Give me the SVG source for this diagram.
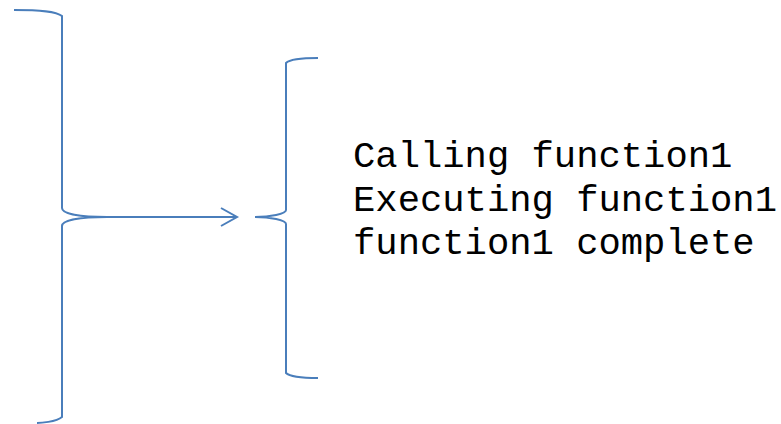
<svg xmlns="http://www.w3.org/2000/svg" width="781" height="424" viewBox="0 0 781 424">
<style>
.b{fill:none;stroke:#4a7ebb;stroke-width:2}
.t{font-family:"Liberation Mono","Courier New",monospace;font-size:37.2px;fill:#000}
</style>
<defs>
<marker id="ah" markerWidth="20" markerHeight="24" refX="17" refY="10" orient="auto" markerUnits="userSpaceOnUse">
<path d="M1,1 L17,10 L1,19" fill="none" stroke="#4a7ebb" stroke-width="2"/>
</marker>
</defs>
<g id="left-brace">
<path class="b" d="M14,10 C40,10 56,11 62,16 L62,208 C62,214 80,217 107,217 C80,217 62,220 62,226 L62,417 C56,422 40,423 37,423"/>
</g>
<g id="right-brace">
<path class="b" d="M318,58 C300,58 290,59 286,63 L286,210 C286,214 270,217 255,217 C270,217 286,220 286,224 L286,373 C290,377 300,378 318,378"/>
</g>
<g id="connectors">
<path class="b" d="M107,217 L237,217" marker-end="url(#ah)"/>
</g>
<g id="output-text">
<text class="t" x="353" y="167">Calling function1</text>
<text class="t" x="353" y="211">Executing function1</text>
<text class="t" x="353" y="254">function1 complete</text>
</g>
</svg>
